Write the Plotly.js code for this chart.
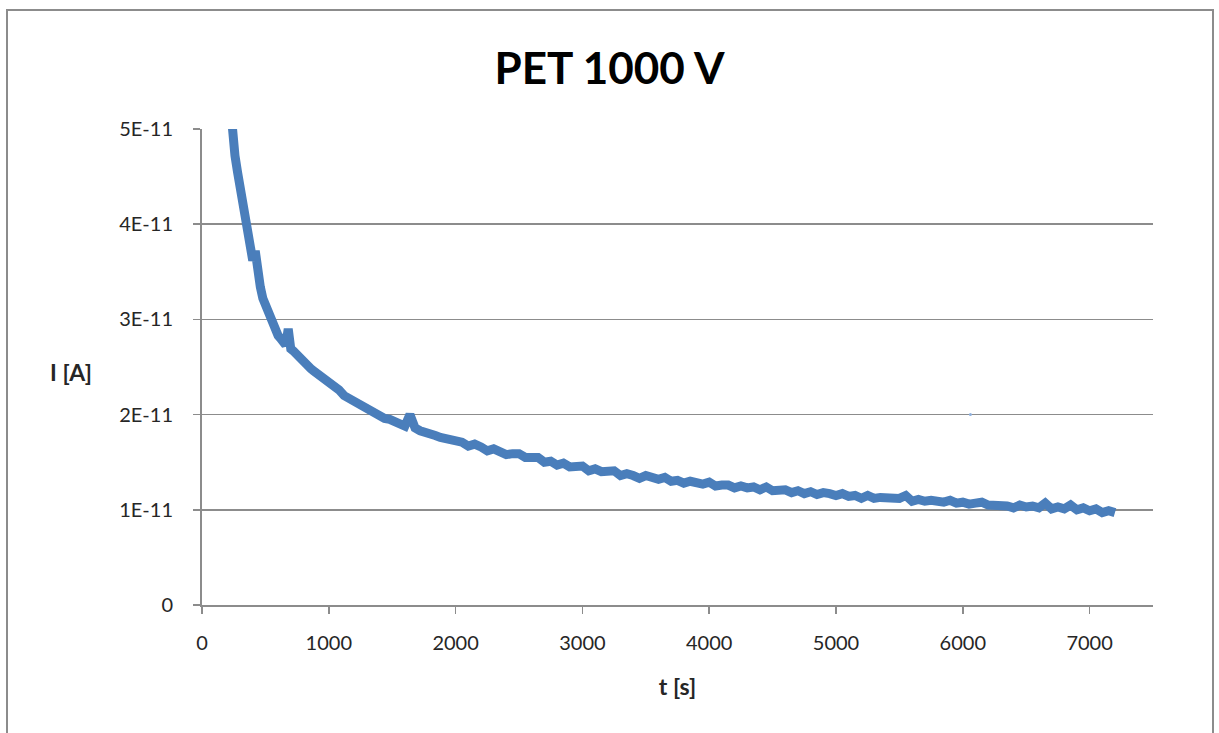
<!DOCTYPE html>
<html>
<head>
<meta charset="utf-8">
<script src="https://cdn.plot.ly/plotly-3.0.1.min.js"></script>
<style>
  html, body { margin: 0; padding: 0; background: #ffffff; }
  #chart { width: 1219px; height: 733px; }
  #frame { position: absolute; left: 6px; top: 9px; width: 1208px; height: 740px;
           border: 2px solid #8c8c8c; pointer-events: none; box-sizing: border-box; }
</style>
</head>
<body>
<div id="chart"></div>
<div id="frame"></div>
<script>
// Time [s]
const timeS = [
  200, 220, 240, 260, 280, 300, 320, 340, 360, 380,
  400, 420, 440, 460, 480, 500, 520, 540, 560, 580,
  600, 620, 640, 660, 680, 700, 720, 740, 760, 780,
  800, 820, 840, 860, 880, 900, 920, 940, 960, 980,
  1000, 1040, 1080, 1120, 1160, 1200, 1240, 1280, 1320, 1360,
  1400, 1440, 1480, 1520, 1560, 1600, 1640, 1680, 1720, 1760,
  1800, 1840, 1880, 1920, 1960, 2000,
  2050, 2100, 2150, 2200, 2250, 2300, 2350, 2400, 2450, 2500,
  2550, 2600, 2650, 2700, 2750, 2800, 2850, 2900, 2950, 3000,
  3050, 3100, 3150, 3200, 3250, 3300, 3350, 3400, 3450, 3500,
  3550, 3600, 3650, 3700, 3750, 3800, 3850, 3900, 3950, 4000,
  4050, 4100, 4150, 4200, 4250, 4300, 4350, 4400, 4450, 4500,
  4550, 4600, 4650, 4700, 4750, 4800, 4850, 4900, 4950, 5000,
  5050, 5100, 5150, 5200, 5250, 5300, 5350, 5400, 5450, 5500,
  5550, 5600, 5650, 5700, 5750, 5800, 5850, 5900, 5950, 6000,
  6050, 6100, 6150, 6200, 6250, 6300, 6350, 6400, 6450, 6500,
  6550, 6600, 6650, 6700, 6750, 6800, 6850, 6900, 6950, 7000,
  7050, 7100, 7150, 7200
];
// Current, in units of 1E-11 A
const currentE11 = [
  5.60, 5.25, 4.95, 4.72, 4.55, 4.38, 4.20, 4.00, 3.88, 3.74,
  3.62, 3.72, 3.44, 3.34, 3.22, 3.15, 3.05, 3.00, 2.93, 2.89,
  2.83, 2.80, 2.77, 2.73, 2.90, 2.69, 2.67, 2.64, 2.60, 2.58,
  2.55, 2.53, 2.50, 2.48, 2.46, 2.44, 2.42, 2.40, 2.38, 2.37,
  2.34, 2.29, 2.26, 2.20, 2.17, 2.12, 2.10, 2.06, 2.04, 2.00,
  1.99, 1.96, 1.95, 1.92, 1.91, 1.88, 2.00, 1.86, 1.83, 1.82,
  1.79, 1.78, 1.76, 1.75, 1.73, 1.72,
  1.71, 1.67, 1.69, 1.66, 1.62, 1.64, 1.61, 1.58, 1.59, 1.59,
  1.55, 1.54, 1.55, 1.50, 1.51, 1.47, 1.49, 1.45, 1.45, 1.46,
  1.41, 1.43, 1.40, 1.40, 1.41, 1.36, 1.38, 1.36, 1.33, 1.36,
  1.35, 1.32, 1.34, 1.30, 1.31, 1.28, 1.30, 1.29, 1.27, 1.29,
  1.25, 1.26, 1.26, 1.23, 1.25, 1.23, 1.24, 1.21, 1.24, 1.20,
  1.20, 1.21, 1.18, 1.20, 1.17, 1.19, 1.16, 1.18, 1.17, 1.15,
  1.17, 1.14, 1.15, 1.12, 1.15, 1.12, 1.13, 1.13, 1.11, 1.12,
  1.15, 1.09, 1.11, 1.09, 1.10, 1.08, 1.08, 1.10, 1.07, 1.08,
  1.06, 1.07, 1.08, 1.05, 1.05, 1.06, 1.04, 1.02, 1.05, 1.03,
  1.04, 1.02, 1.07, 1.01, 1.03, 1.01, 1.05, 1.00, 1.02, 0.99,
  1.01, 0.97, 0.99, 0.97
];
// Isolated stray point near t = 6060 s
const strayT = [6060];
const strayI = [2.0];

const yTickVals = [0, 1, 2, 3, 4, 5];
const yTickText = ['0', '1E-11', '2E-11', '3E-11', '4E-11', '5E-11'];
const xTickVals = [0, 1000, 2000, 3000, 4000, 5000, 6000, 7000];

const FONT = 'Lato, "Open Sans", "DejaVu Sans", sans-serif';
const LINE = '#4a7ebb';
const GRID = '#8c8c8c';
const TXT = '#262626';

const traces = [
  {
    x: timeS, y: currentE11, type: 'scatter', mode: 'lines',
    line: { color: LINE, width: 9 }, hoverinfo: 'skip'
  },
  {
    x: strayT, y: strayI, type: 'scatter', mode: 'markers',
    marker: { color: '#8fb0de', size: 3 }, hoverinfo: 'skip'
  }
];

const layout = {
  width: 1219, height: 733,
  margin: { l: 202, r: 66, t: 129, b: 128 },
  paper_bgcolor: '#ffffff', plot_bgcolor: '#ffffff',
  showlegend: false,
  font: { family: FONT, color: TXT, size: 20 },
  title: {
    text: '<b>PET 1000 V</b>',
    font: { family: FONT, size: 44, color: '#000000' },
    x: 0.5, xanchor: 'center', y: 0.907, yanchor: 'middle'
  },
  xaxis: {
    range: [0, 7500], tickvals: xTickVals, showgrid: false,
    zeroline: false, showline: true, linecolor: GRID, linewidth: 2,
    ticks: 'outside', ticklen: 7, tickcolor: GRID, tickwidth: 1.5,
    ticklabelstandoff: 12,
    tickfont: { family: FONT, size: 20, color: TXT },
    title: { text: '<b>t [s]</b>', font: { family: FONT, size: 23, color: TXT }, standoff: 26 }
  },
  yaxis: {
    range: [0, 5], tickvals: yTickVals, ticktext: yTickText,
    showgrid: true, gridcolor: GRID, gridwidth: 1.5,
    zeroline: false, showline: true, linecolor: GRID, linewidth: 2,
    ticks: 'outside', ticklen: 7, tickcolor: GRID, tickwidth: 1.5,
    ticklabelstandoff: 16,
    tickfont: { family: FONT, size: 20, color: TXT }
  },
  annotations: [
    {
      text: '<b>I [A]</b>', xref: 'paper', yref: 'paper',
      x: -0.138, y: 0.49, xanchor: 'center', yanchor: 'middle',
      showarrow: false, font: { family: FONT, size: 23, color: TXT }
    }
  ]
};

Plotly.newPlot('chart', traces, layout, { staticPlot: true, displayModeBar: false });
</script>
</body>
</html>
